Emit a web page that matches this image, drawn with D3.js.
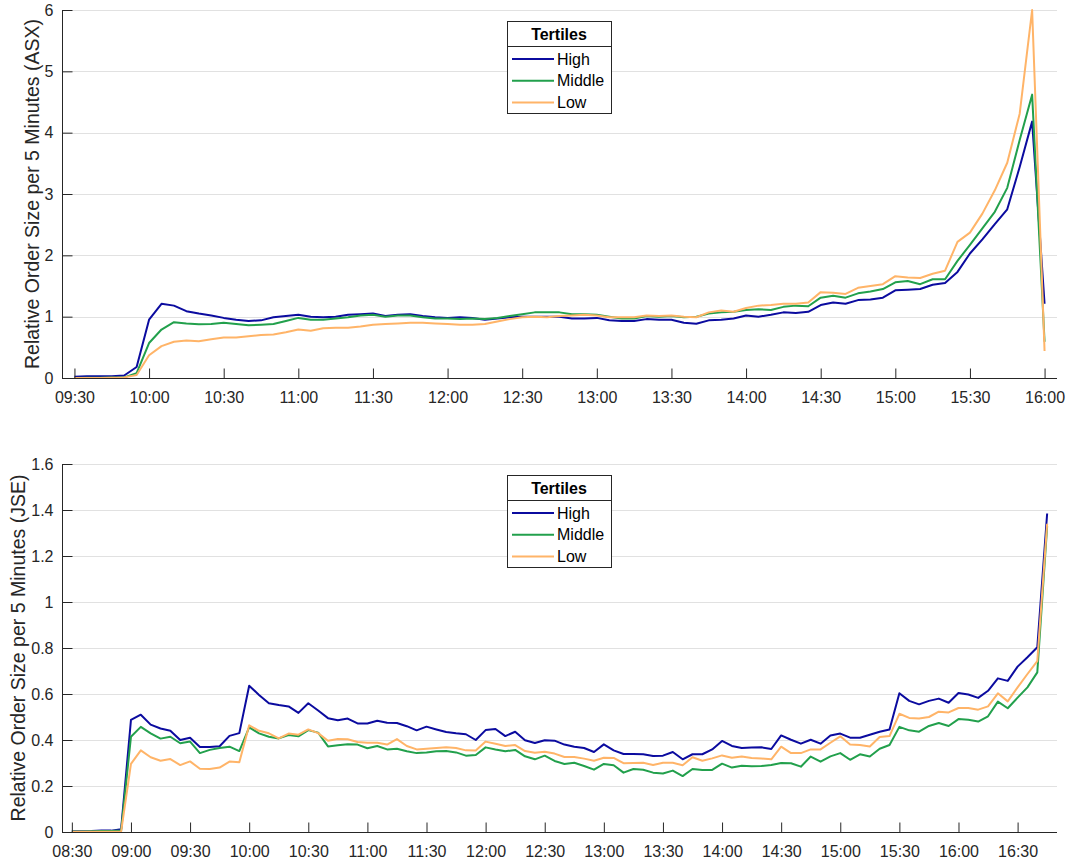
<!DOCTYPE html>
<html>
<head>
<meta charset="utf-8">
<script src="https://cdn.jsdelivr.net/npm/d3@7/dist/d3.min.js"></script>
<style>
  html, body { margin: 0; padding: 0; background: #fff; }
  svg { display: block; font-family: "Liberation Sans", Arial, Helvetica, sans-serif; }
</style>
</head>
<body>
<svg id="chart" width="1069" height="862"></svg>
<script>
// ---- Tertile series: relative order size per 5-minute bucket ----
const seriesNames = ["High", "Middle", "Low"];
const seriesColors = ["#0b0b9f", "#22a04c", "#ffb468"];

// ASX: 09:30 .. 16:00 (5-minute buckets)
const asxStart = "09:30";
const asxHigh = [
  0.02, 0.03, 0.03, 0.03, 0.04, 0.18,
  0.95, 1.21, 1.18, 1.09, 1.05, 1.02, 0.98, 0.95, 0.93, 0.94, 0.99, 1.01,
  1.03, 1.00, 0.99, 1.00, 1.03, 1.04, 1.05, 1.01, 1.03, 1.04, 1.01, 0.99,
  0.98, 0.99, 0.98, 0.95, 0.97, 0.99, 1.00, 1.00, 1.00, 1.00, 0.97, 0.97,
  0.98, 0.94, 0.93, 0.93, 0.96, 0.95, 0.95, 0.90, 0.885, 0.94, 0.95, 0.97,
  1.02, 1.00, 1.03, 1.07, 1.06, 1.08, 1.19, 1.23, 1.21, 1.27, 1.28, 1.31,
  1.43, 1.44, 1.45, 1.52, 1.55, 1.73, 2.03, 2.26, 2.51, 2.75, 3.44, 4.18,
  1.21
];
const asxMiddle = [
  0.00, 0.005, 0.005, 0.01, 0.01, 0.08,
  0.57, 0.79, 0.91, 0.89, 0.875, 0.88, 0.90, 0.88, 0.86, 0.87, 0.88, 0.93,
  0.98, 0.95, 0.95, 0.97, 0.99, 1.02, 1.03, 1.00, 1.02, 1.02, 0.99, 0.97,
  0.97, 0.96, 0.97, 0.96, 0.98, 1.01, 1.04, 1.07, 1.07, 1.07, 1.04, 1.04,
  1.03, 1.00, 0.97, 0.97, 1.01, 1.00, 1.01, 0.99, 1.00, 1.05, 1.07, 1.08,
  1.11, 1.12, 1.11, 1.16, 1.18, 1.17, 1.31, 1.34, 1.31, 1.38, 1.41, 1.45,
  1.56, 1.58, 1.53, 1.61, 1.61, 1.91, 2.17, 2.44, 2.71, 3.10, 3.88, 4.62,
  0.59
];
const asxLow = [
  0.00, 0.00, 0.00, 0.005, 0.01, 0.05,
  0.37, 0.52, 0.59, 0.61, 0.60, 0.63, 0.66, 0.66, 0.68, 0.70, 0.71, 0.745,
  0.79, 0.77, 0.81, 0.82, 0.82, 0.84, 0.87, 0.88, 0.89, 0.90, 0.90, 0.89,
  0.88, 0.87, 0.87, 0.88, 0.92, 0.96, 0.99, 1.00, 0.99, 1.01, 1.02, 1.03,
  1.02, 0.99, 0.99, 0.99, 1.02, 1.01, 1.02, 1.00, 0.99, 1.07, 1.10, 1.08,
  1.14, 1.18, 1.19, 1.21, 1.21, 1.23, 1.40, 1.39, 1.37, 1.47, 1.50, 1.53,
  1.66, 1.64, 1.63, 1.70, 1.75, 2.22, 2.37, 2.68, 3.06, 3.51, 4.31, 6.00,
  0.44
];
const asxTicks = ["09:30", "10:00", "10:30", "11:00", "11:30", "12:00", "12:30",
  "13:00", "13:30", "14:00", "14:30", "15:00", "15:30", "16:00"];
const asxDomain = ["09:25", "16:05"];
const asxYTicks = [0, 1, 2, 3, 4, 5, 6];

// JSE: 08:30 .. 16:45 (5-minute buckets)
const jseStart = "08:30";
const jseHigh = [
  0.003, 0.003, 0.004, 0.006, 0.006, 0.012,
  0.487, 0.51, 0.467, 0.45, 0.44, 0.40, 0.41, 0.37, 0.37, 0.373, 0.418, 0.43,
  0.636, 0.596, 0.56, 0.552, 0.546, 0.518, 0.56, 0.528, 0.495, 0.486, 0.493, 0.472,
  0.472, 0.484, 0.475, 0.474, 0.46, 0.442, 0.458, 0.446, 0.435, 0.429, 0.425, 0.40,
  0.443, 0.448, 0.417, 0.436, 0.399, 0.387, 0.399, 0.397, 0.38, 0.371, 0.365, 0.348,
  0.381, 0.355, 0.339, 0.339, 0.338, 0.33, 0.332, 0.348, 0.316, 0.338, 0.338, 0.359,
  0.396, 0.374, 0.365, 0.367, 0.368, 0.361, 0.42, 0.401, 0.384, 0.401, 0.384, 0.42,
  0.428, 0.41, 0.41, 0.423, 0.436, 0.446, 0.603, 0.57, 0.555, 0.57, 0.58, 0.562,
  0.604, 0.598, 0.583, 0.614, 0.668, 0.657, 0.719, 0.76, 0.803, 1.385
];
const jseMiddle = [
  0.002, 0.002, 0.003, 0.004, 0.004, 0.006,
  0.414, 0.457, 0.429, 0.406, 0.414, 0.386, 0.393, 0.343, 0.357, 0.365, 0.371, 0.352,
  0.455, 0.429, 0.414, 0.407, 0.422, 0.416, 0.443, 0.432, 0.372, 0.377, 0.381, 0.38,
  0.364, 0.374, 0.359, 0.362, 0.351, 0.343, 0.346, 0.351, 0.352, 0.346, 0.332, 0.335,
  0.368, 0.359, 0.351, 0.357, 0.329, 0.316, 0.332, 0.309, 0.296, 0.301, 0.287, 0.271,
  0.296, 0.29, 0.258, 0.274, 0.271, 0.258, 0.254, 0.267, 0.243, 0.274, 0.27, 0.27,
  0.297, 0.28, 0.288, 0.286, 0.287, 0.291, 0.30, 0.299, 0.284, 0.328, 0.306, 0.329,
  0.343, 0.314, 0.338, 0.328, 0.362, 0.378, 0.457, 0.442, 0.436, 0.461, 0.474, 0.461,
  0.491, 0.488, 0.48, 0.503, 0.567, 0.538, 0.584, 0.629, 0.694, 1.33
];
const jseLow = [
  0.001, 0.001, 0.001, 0.001, 0.001, 0.002,
  0.296, 0.355, 0.325, 0.31, 0.317, 0.291, 0.307, 0.275, 0.274, 0.28, 0.306, 0.303,
  0.464, 0.44, 0.429, 0.407, 0.428, 0.423, 0.446, 0.43, 0.397, 0.404, 0.403, 0.391,
  0.388, 0.388, 0.38, 0.404, 0.374, 0.359, 0.362, 0.365, 0.368, 0.365, 0.355, 0.354,
  0.393, 0.384, 0.374, 0.378, 0.352, 0.345, 0.349, 0.341, 0.326, 0.326, 0.319, 0.31,
  0.323, 0.322, 0.299, 0.30, 0.301, 0.291, 0.301, 0.301, 0.29, 0.325, 0.31, 0.32,
  0.333, 0.323, 0.328, 0.322, 0.32, 0.316, 0.371, 0.343, 0.343, 0.359, 0.359, 0.388,
  0.416, 0.38, 0.378, 0.372, 0.413, 0.417, 0.514, 0.496, 0.493, 0.50, 0.523, 0.52,
  0.539, 0.539, 0.532, 0.546, 0.603, 0.568, 0.629, 0.687, 0.743, 1.34
];
const jseTicks = ["08:30", "09:00", "09:30", "10:00", "10:30", "11:00", "11:30",
  "12:00", "12:30", "13:00", "13:30", "14:00", "14:30", "15:00", "15:30", "16:00", "16:30"];
const jseDomain = ["08:25", "16:50"];
const jseYTicks = [0, 0.2, 0.4, 0.6, 0.8, 1, 1.2, 1.4, 1.6];

// ---- helpers ----
const parseHM = d3.timeParse("%H:%M");
const fmtTick = d3.format("~g");

function bucketTimes(start, n) {
  const t0 = parseHM(start);
  return d3.range(n).map(i => d3.timeMinute.offset(t0, i * 5));
}

const svg = d3.select("#chart");
const axisColor = "#262626";

function drawPanel(cfg) {
  const { top, bottom, left, right } = cfg.box;
  const x = d3.scaleTime().domain(cfg.domain.map(parseHM)).range([left, right]);
  const y = d3.scaleLinear().domain([cfg.yTicks[0], cfg.yTicks[cfg.yTicks.length - 1]]).range([bottom, top]);
  const g = svg.append("g");

  // horizontal grid
  g.append("g").selectAll("line")
    .data(cfg.yTicks.filter(v => v !== 0))
    .join("line")
    .attr("x1", left).attr("x2", right)
    .attr("y1", d => Math.round(y(d)) + 0.5).attr("y2", d => Math.round(y(d)) + 0.5)
    .attr("stroke", "#e1e1e1").attr("stroke-width", 1);

  // series
  const times = bucketTimes(cfg.start, cfg.series[0].length);
  const line = d3.line().x((d, i) => x(times[i])).y(d => y(d));
  g.append("g").selectAll("path")
    .data(cfg.series)
    .join("path")
    .attr("d", d => line(d))
    .attr("fill", "none")
    .attr("stroke", (d, i) => seriesColors[i])
    .attr("stroke-width", 2)
    .attr("stroke-linejoin", "round");

  // y axis
  const yAxis = d3.axisLeft(y).tickValues(cfg.yTicks).tickSize(-10).tickPadding(9).tickFormat(fmtTick);
  const ya = g.append("g").attr("transform", `translate(${left + 0.5},0)`).call(yAxis);
  // x axis
  const xAxis = d3.axisBottom(x).tickValues(cfg.ticks.map(parseHM)).tickSize(-10).tickPadding(13)
    .tickFormat(d3.timeFormat("%H:%M"));
  const xa = g.append("g").attr("transform", `translate(0,${bottom + 0.5})`).call(xAxis);

  [ya, xa].forEach(a => {
    a.select(".domain").attr("stroke", axisColor).attr("d",
      a === ya ? `M0,${top}V${bottom}` : `M${left},0H${right}`);
    a.selectAll(".tick line").attr("stroke", axisColor);
    a.selectAll(".tick text").attr("fill", axisColor).style("font-size", "16px")
      .style("font-family", "'Liberation Sans', Arial, Helvetica, sans-serif");
  });

  // y label
  g.append("text")
    .attr("transform", `translate(${cfg.labelX},${(top + bottom) / 2}) rotate(-90)`)
    .attr("text-anchor", "middle")
    .attr("dominant-baseline", "central")
    .attr("fill", axisColor)
    .style("font-size", "19.5px")
    .text(cfg.yLabel);

  // legend
  const L = cfg.legend;
  const lg = g.append("g").attr("transform", `translate(${L.x},${L.y})`);
  lg.append("rect").attr("x", 0.5).attr("y", 0.5).attr("width", L.w).attr("height", L.h)
    .attr("fill", "#fff").attr("stroke", axisColor).attr("stroke-width", 1);
  lg.append("line").attr("x1", 0.5).attr("x2", L.w + 0.5).attr("y1", 25.5).attr("y2", 25.5)
    .attr("stroke", axisColor).attr("stroke-width", 1);
  lg.append("text").attr("x", L.w / 2).attr("y", 19).attr("text-anchor", "middle")
    .attr("fill", "#000").style("font-size", "16px").style("font-weight", "bold").text("Tertiles");
  const rows = lg.selectAll("g.row").data(seriesNames).join("g").attr("class", "row")
    .attr("transform", (d, i) => `translate(0,${38 + i * 21.7})`);
  rows.append("line").attr("x1", 5).attr("x2", 47).attr("y1", 0).attr("y2", 0)
    .attr("stroke", (d, i) => seriesColors[i]).attr("stroke-width", 2);
  rows.append("text").attr("x", 50).attr("y", 0).attr("dominant-baseline", "central")
    .attr("fill", "#000").style("font-size", "16px").text(d => d);
}

drawPanel({
  box: { top: 10, bottom: 378, left: 62, right: 1057 },
  domain: asxDomain, start: asxStart, ticks: asxTicks, yTicks: asxYTicks,
  series: [asxHigh, asxMiddle, asxLow],
  yLabel: "Relative Order Size per 5 Minutes (ASX)", labelX: 32,
  legend: { x: 507, y: 21, w: 104, h: 92 }
});

drawPanel({
  box: { top: 464, bottom: 832, left: 62, right: 1057 },
  domain: jseDomain, start: jseStart, ticks: jseTicks, yTicks: jseYTicks,
  series: [jseHigh, jseMiddle, jseLow],
  yLabel: "Relative Order Size per 5 Minutes (JSE)", labelX: 18,
  legend: { x: 507, y: 475, w: 104, h: 92 }
});
</script>
</body>
</html>
